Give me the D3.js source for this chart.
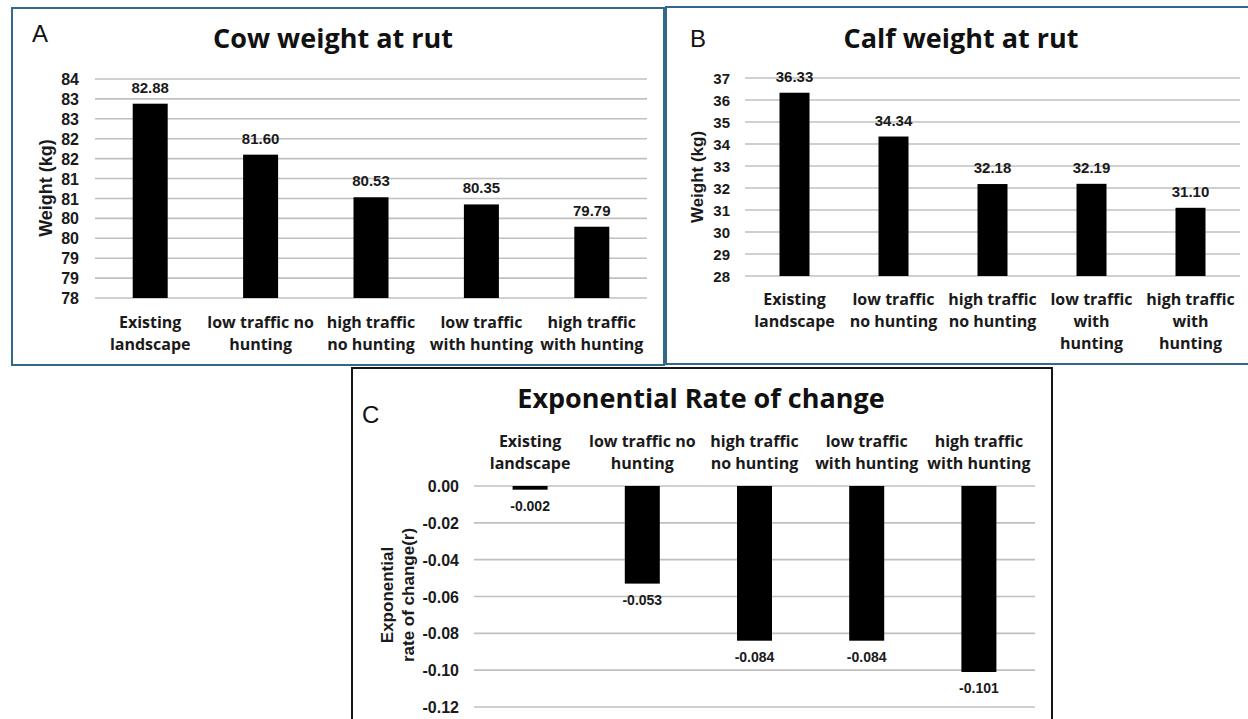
<!DOCTYPE html>
<html>
<head>
<meta charset="utf-8">
<script src="https://cdn.jsdelivr.net/npm/d3@7"></script>
<style>
  html, body { margin: 0; padding: 0; background: #fff; }
  svg { display: block; }
  .num { font-family: "Liberation Sans", Arial, sans-serif; font-weight: bold; fill: #1a1a1a; }
  .cat { font-family: "Open Sans", Lato, sans-serif; font-weight: 700; fill: #1a1a1a; }
  .ttl { font-family: "Open Sans", Lato, sans-serif; font-weight: 700; fill: #111; }
  .tag { font-family: "Liberation Sans", Arial, sans-serif; fill: #111; }
</style>
</head>
<body>
<svg id="fig" width="1248" height="719"></svg>
<script>
// ---- data ----
const scenarios = ["Existing landscape", "low traffic no hunting", "high traffic no hunting",
                   "low traffic with hunting", "high traffic with hunting"];

const cowWeight = [82.88, 81.60, 80.53, 80.35, 79.79];
const calfWeight = [36.33, 34.34, 32.18, 32.19, 31.10];
const rateOfChange = [-0.002, -0.053, -0.084, -0.084, -0.101];

const cowTicks = [78, 78.5, 79, 79.5, 80, 80.5, 81, 81.5, 82, 82.5, 83, 83.5];
const calfTicks = [28, 29, 30, 31, 32, 33, 34, 35, 36, 37];
const rateTicks = [0, -0.02, -0.04, -0.06, -0.08, -0.10, -0.12];

const catLinesWide = [["Existing", "landscape"], ["low traffic no", "hunting"], ["high traffic", "no hunting"],
                      ["low traffic", "with hunting"], ["high traffic", "with hunting"]];
const catLinesNarrow = [["Existing", "landscape"], ["low traffic", "no hunting"], ["high traffic", "no hunting"],
                        ["low traffic", "with", "hunting"], ["high traffic", "with", "hunting"]];

// hyphen-minus for negative numbers
const loc = d3.formatLocale({decimal: ".", thousands: ",", grouping: [3], currency: ["", ""], minus: "-"});
const f2 = loc.format(".2f"), f3 = loc.format(".3f");
const roundInt = v => String(Math.floor(v + 0.5));   // whole-number axis format

const svg = d3.select("#fig");
svg.append("rect").attr("width", 1248).attr("height", 719).attr("fill", "#fff");

function panel(o) {
  const g = svg.append("g");

  // frame
  g.append("rect").attr("x", o.frame[0]).attr("y", o.frame[1])
    .attr("width", o.frame[2]).attr("height", o.frame[3])
    .attr("fill", "none").attr("stroke", o.frameColor).attr("stroke-width", 2);

  const x = d3.scaleBand().domain(scenarios).range(o.xRange)
    .paddingInner(o.pad).paddingOuter(o.pad / 2);
  const y = d3.scaleLinear().domain(o.domain).range(o.yRange);

  // gridlines
  g.append("g").selectAll("line").data(o.ticks).join("line")
    .attr("x1", o.xRange[0]).attr("x2", o.xRange[1])
    .attr("y1", d => y(d)).attr("y2", d => y(d))
    .attr("stroke", "#c0c0c0").attr("stroke-width", 1.6);

  // value axis labels
  const yAxis = d3.axisLeft(y).tickValues(o.ticks).tickFormat(o.tickFmt).tickSize(0).tickPadding(0);
  const ya = g.append("g").attr("transform", `translate(${o.tickX},0)`).call(yAxis);
  ya.select(".domain").remove();
  ya.selectAll("text").attr("class", "num").style("font-size", o.tickSize + "px")
    .attr("font-family", null).attr("dy", "0.35em");

  // bars
  const base = o.base;
  g.append("g").selectAll("rect").data(o.values).join("rect")
    .attr("x", (d, i) => x(scenarios[i]))
    .attr("width", x.bandwidth())
    .attr("y", d => Math.min(y(d), y(base)))
    .attr("height", d => Math.abs(y(d) - y(base)))
    .attr("fill", "#000");

  // data labels
  g.append("g").selectAll("text").data(o.values).join("text")
    .attr("class", "num").style("font-size", o.valSize + "px")
    .attr("text-anchor", "middle")
    .attr("x", (d, i) => x(scenarios[i]) + x.bandwidth() / 2)
    .attr("y", d => d >= base ? y(d) - 11 : y(d) + 21)
    .text(o.valFmt);

  // category labels
  const cats = g.append("g").selectAll("text").data(o.catLines).join("text")
    .attr("class", "cat").style("font-size", "16px").attr("text-anchor", "middle")
    .attr("x", (d, i) => x(scenarios[i]) + x.bandwidth() / 2)
    .attr("y", o.catY);
  cats.selectAll("tspan").data(d => d).join("tspan")
    .attr("x", function () { return d3.select(this.parentNode).attr("x"); })
    .attr("dy", (d, i) => i === 0 ? 0 : 22)
    .text(d => d);

  // axis title
  const at = g.append("text").attr("class", "num").style("font-size", o.axisSize + "px")
    .attr("text-anchor", "middle")
    .attr("transform", `translate(${o.axisPos[0]},${o.axisPos[1]}) rotate(-90)`);
  o.axisLines.forEach((t, i) => {
    at.append("tspan").attr("x", 0).attr("dy", i === 0 ? 0 : 21).text(t);
  });

  // chart title and panel tag
  g.append("text").attr("class", "ttl").style("font-size", "27px").attr("text-anchor", "middle")
    .attr("x", o.titlePos[0]).attr("y", o.titlePos[1]).text(o.title);
  g.append("text").attr("class", "tag").style("font-size", "24px")
    .attr("x", o.tagPos[0]).attr("y", o.tagPos[1]).text(o.tag);
}

panel({
  tag: "A", tagPos: [32, 42], title: "Cow weight at rut", titlePos: [333, 48],
  frame: [12, 8, 652, 357], frameColor: "#32698a",
  xRange: [95, 647], yRange: [298, 79], domain: [78, 83.5], pad: 0.683, base: 78,
  ticks: cowTicks, tickFmt: roundInt, tickX: 79, tickSize: 16,
  values: cowWeight, valFmt: f2, valSize: 15,
  catLines: catLinesWide, catY: 328,
  axisLines: ["Weight (kg)"], axisPos: [52, 188], axisSize: 18
});

panel({
  tag: "B", tagPos: [690, 47], title: "Calf weight at rut", titlePos: [961, 48],
  frame: [666, 7, 600, 357], frameColor: "#32698a",
  xRange: [745, 1240], yRange: [276, 78], domain: [28, 37], pad: 0.697, base: 28,
  ticks: calfTicks, tickFmt: d => String(d), tickX: 730, tickSize: 15,
  values: calfWeight, valFmt: f2, valSize: 15,
  catLines: catLinesNarrow, catY: 305,
  axisLines: ["Weight (kg)"], axisPos: [703, 177], axisSize: 17
});

panel({
  tag: "C", tagPos: [362, 423], title: "Exponential Rate of change", titlePos: [701, 408],
  frame: [352, 368, 700, 400], frameColor: "#161616",
  xRange: [474, 1035], yRange: [707, 486], domain: [-0.12, 0], pad: 0.688, base: 0,
  ticks: rateTicks, tickFmt: f2, tickX: 459, tickSize: 16,
  values: rateOfChange, valFmt: f3, valSize: 14,
  catLines: catLinesWide, catY: 447,
  axisLines: ["Exponential", "rate of change(r)"], axisPos: [393, 595], axisSize: 17
});
</script>
</body>
</html>
